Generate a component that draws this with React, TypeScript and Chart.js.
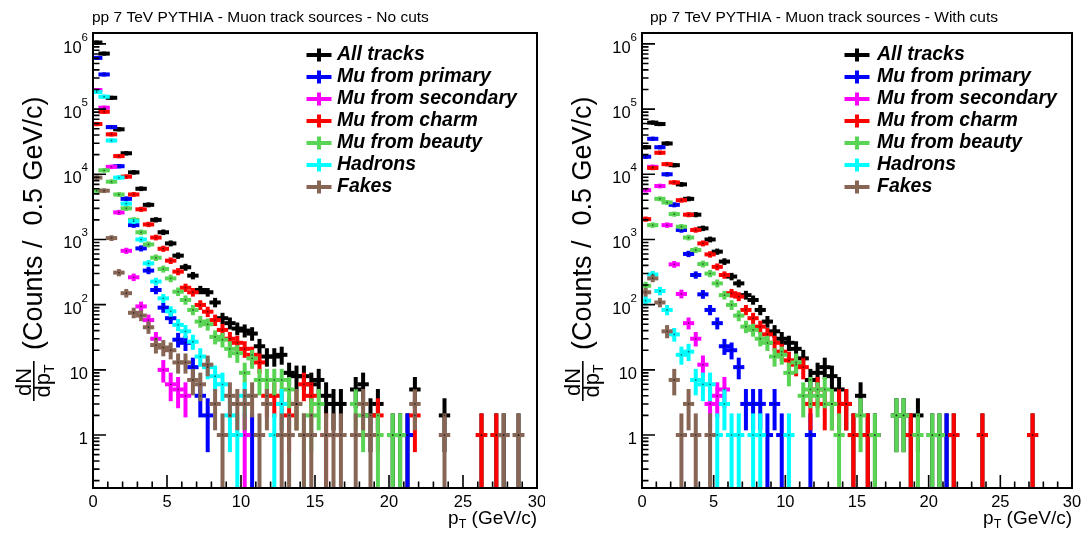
import React, { useEffect, useRef } from "react";
import { Chart, registerables } from "chart.js";

Chart.register(...registerables);

// ---------------- data ----------------
const binWidth = 0.5;
const binCenters = [
  0.25, 0.75, 1.25, 1.75, 2.25, 2.75, 3.25, 3.75, 4.25, 4.75,
  5.25, 5.75, 6.25, 6.75, 7.25, 7.75, 8.25, 8.75, 9.25, 9.75,
  10.25, 10.75, 11.25, 11.75, 12.25, 12.75, 13.25, 13.75, 14.25, 14.75,
  15.25, 15.75, 16.25, 16.75, 17.25, 17.75, 18.25, 18.75, 19.25, 19.75,
  20.25, 20.75, 21.25, 21.75, 22.25, 22.75, 23.25, 23.75, 24.25, 24.75,
  25.25, 25.75, 26.25, 26.75, 27.25, 27.75, 28.25, 28.75, 29.25, 29.75,
];

const seriesNames = [
  "All tracks",
  "Mu from primary",
  "Mu from secondary",
  "Mu from charm",
  "Mu from beauty",
  "Hadrons",
  "Fakes",
];

// ---- left panel: No cuts ----
const leftAll = [
  1050000, 710000, 149000, 49000, 21000, 10700, 6000, 3400, 2000, 1290,
  870, 565, 375, 279, 168, 155, 108, 62, 52, 43,
  40, 36, 23, 16, 16, 17, 9, 8, 8, 6,
  7, 4, 3, 3, 0, 5, 6, 2, 3, 0,
  1, 1, 1, 5, 0, 0, 0, 2, 0, 0,
  0, 0, 1, 0, 1, 1, 0, 1, 0, 0,
];
const leftPrimary = [
  610000, 340000, 53000, 13300, 4200, 1660, 730, 333, 168, 90,
  62, 29, 26, 11, 4, 2, 0, 0, 0, 0,
  0, 1, 0, 0, 0, 0, 0, 0, 0, 0,
  0, 0, 0, 0, 0, 0, 0, 0, 0, 0,
  0, 0, 1, 0, 0, 0, 0, 0, 0, 0,
  0, 0, 0, 0, 0, 0, 0, 0, 0, 0,
];
const leftSecondary = [
  196000, 105000, 13000, 2600, 670, 263, 94, 58, 30, 10,
  6, 5, 4, 0, 0, 0, 0, 0, 0, 0,
  1, 0, 0, 0, 0, 0, 0, 0, 0, 0,
  0, 0, 0, 0, 0, 0, 0, 0, 0, 0,
  0, 0, 0, 0, 0, 0, 0, 0, 0, 0,
  0, 0, 0, 0, 0, 0, 0, 0, 0, 0,
];
const leftCharm = [
  59000, 91000, 41000, 19000, 9200, 4900, 2900, 1700, 1070, 720,
  473, 321, 182, 155, 99, 78, 58, 41, 30, 26,
  21, 17, 13, 4, 4, 3, 2, 3, 6, 4,
  0, 1, 0, 0, 0, 0, 0, 0, 2, 0,
  0, 0, 0, 2, 0, 0, 0, 0, 0, 0,
  0, 0, 1, 0, 1, 0, 0, 0, 0, 0,
];
const leftBeauty = [
  5600, 11500, 7700, 4900, 3000, 2000, 1290, 840, 525, 352,
  253, 158, 118, 83, 55, 50, 32, 29, 21, 18,
  9, 15, 7, 7, 7, 7, 5, 3, 1, 2,
  3, 0, 0, 0, 0, 3, 2, 0, 1, 0,
  1, 1, 0, 0, 0, 0, 0, 0, 0, 0,
  0, 0, 0, 0, 0, 0, 0, 0, 0, 0,
];
const leftHadrons = [
  183000, 155000, 33000, 8900, 3550, 1900, 1000, 430, 226, 125,
  79, 49, 39, 27, 16, 11, 8, 6, 2, 1,
  4, 0, 0, 0, 1, 3, 0, 0, 0, 0,
  0, 0, 0, 0, 0, 0, 0, 0, 0, 0,
  0, 0, 0, 0, 0, 0, 0, 0, 0, 0,
  0, 0, 0, 0, 0, 0, 0, 0, 0, 0,
];
const leftFakes = [
  8900, 5600, 1050, 310, 150, 75, 68, 45, 24, 22,
  20, 13, 13, 7, 6, 12, 3, 1, 4, 3,
  3, 4, 1, 3, 0, 1, 1, 3, 1, 1,
  0, 1, 1, 1, 0, 1, 3, 1, 0, 0,
  0, 0, 0, 3, 0, 0, 0, 1, 0, 0,
  0, 0, 0, 0, 0, 1, 0, 1, 0, 0,
];

// ---- right panel: With cuts ----
const rightAll = [
  26000, 62000, 59000, 29700, 13800, 7000, 4200, 2400, 1480, 1000,
  650, 458, 270, 212, 140, 118, 83, 55, 39, 30,
  26, 21, 15, 7, 9, 11, 8, 5, 3, 1,
  4, 1, 1, 0, 0, 2, 2, 1, 2, 0,
  1, 1, 1, 1, 0, 0, 0, 1, 0, 0,
  0, 0, 0, 0, 1, 0, 0, 0, 0, 0,
];
const rightPrimary = [
  18600, 35000, 26000, 10000, 3400, 1400, 600, 285, 144, 83,
  52, 23, 20, 11, 3, 3, 3, 1, 3, 1,
  0, 0, 0, 1, 0, 0, 0, 0, 0, 0,
  0, 0, 0, 0, 0, 0, 0, 0, 0, 0,
  0, 0, 1, 0, 0, 0, 0, 0, 0, 0,
  0, 0, 0, 0, 0, 0, 0, 0, 0, 0,
];
const rightSecondary = [
  5700, 13000, 6600, 1660, 415, 146, 52, 30, 12, 3,
  4, 5, 0, 0, 0, 0, 0, 0, 0, 0,
  0, 0, 0, 0, 0, 0, 0, 0, 0, 0,
  0, 0, 0, 0, 0, 0, 0, 0, 0, 0,
  0, 0, 0, 0, 0, 0, 0, 0, 0, 0,
  0, 0, 0, 0, 0, 0, 0, 0, 0, 0,
];
const rightCharm = [
  2050, 12500, 21400, 14300, 7500, 4000, 2400, 1400, 870, 590,
  380, 285, 150, 133, 83, 62, 46, 35, 26, 19,
  14, 12, 11, 3, 5, 3, 3, 3, 3, 1,
  0, 1, 0, 0, 0, 0, 0, 1, 0, 0,
  0, 0, 0, 1, 0, 0, 0, 1, 0, 0,
  0, 0, 0, 0, 1, 0, 0, 0, 0, 0,
];
const rightBeauty = [
  195, 1660, 4200, 3700, 2450, 1570, 1070, 690, 420, 300,
  212, 140, 99, 68, 46, 41, 30, 26, 16, 17,
  9, 13, 4, 5, 4, 5, 3, 1, 0, 0,
  2, 0, 1, 0, 0, 2, 2, 0, 1, 0,
  1, 1, 0, 0, 0, 0, 0, 0, 0, 0,
  0, 0, 0, 0, 0, 0, 0, 0, 0, 0,
];
const rightHadrons = [
  115, 290, 162, 83, 35, 17, 19, 7, 6, 6,
  1, 3, 1, 1, 0, 1, 1, 0, 0, 0,
  1, 0, 0, 0, 0, 0, 0, 0, 0, 0,
  0, 0, 0, 0, 0, 0, 0, 0, 0, 0,
  0, 0, 0, 0, 0, 0, 0, 0, 0, 0,
  0, 0, 0, 0, 0, 0, 0, 0, 0, 0,
];
const rightFakes = [
  155, 253, 108, 39, 7, 1, 3, 1, 0, 1,
  0, 0, 0, 0, 0, 0, 0, 0, 0, 0,
  0, 0, 0, 0, 0, 0, 0, 0, 0, 0,
  0, 0, 0, 0, 0, 0, 0, 0, 0, 0,
  0, 0, 0, 0, 0, 0, 0, 0, 0, 0,
  0, 0, 0, 0, 0, 0, 0, 0, 0, 0,
];

const xTickLabels = [0, 5, 10, 15, 20, 25, 30];
const yDecadeExponents = [0, 1, 2, 3, 4, 5, 6];
const panelTitles = [
  "pp 7 TeV PYTHIA - Muon track sources - No cuts",
  "pp 7 TeV PYTHIA - Muon track sources - With cuts",
];

// ---------------- style ----------------
const COLORS = ["#000000", "#0000ff", "#ff00ff", "#ff0000", "#59d454", "#00ffff", "#876656"];
const FONT = '"Liberation Sans", Arial, Helvetica, sans-serif';
const X_MIN = 0;
const X_MAX = 30;
const Y_MIN = 0.154;
const Y_MAX = 1.47e6;
const BAR = 4;

type PanelCfg = {
  left: number;
  width: number;
  pad: { left: number; right: number; top: number; bottom: number };
  title: string;
  titleX: number;
  yTitleDx: number;
  legendCrossX: number;
  legendTextX: number;
  series: number[][];
};

const rootPlugin = (cfg: PanelCfg) => ({
  id: "rootStyle",
  beforeDatasetsDraw(chart: any) {
    const { ctx, chartArea: a } = chart;
    const xs = chart.scales.x;
    const ys = chart.scales.y;
    ctx.save();
    ctx.beginPath();
    ctx.rect(a.left, a.top, a.right - a.left, a.bottom - a.top);
    ctx.clip();
    const h = BAR / 2;
    chart.data.datasets.forEach((ds: any) => {
      ctx.fillStyle = ds.borderColor;
      ds.data.forEach((p: any) => {
        if (!p || p.y <= 0) return;
        const err = Math.sqrt(p.y);
        const px = xs.getPixelForValue(p.x);
        const xl = xs.getPixelForValue(p.x - binWidth / 2);
        const xr = xs.getPixelForValue(p.x + binWidth / 2);
        const py = ys.getPixelForValue(p.y);
        const top = ys.getPixelForValue(p.y + err);
        const lo = p.y - err;
        const bot = lo > ys.min ? ys.getPixelForValue(lo) : a.bottom + 10;
        ctx.fillRect(xl - h, py - h, xr - xl + 2 * h, 2 * h);
        ctx.fillRect(px - h, top - h, 2 * h, bot - top + 2 * h);
      });
    });
    ctx.restore();
  },
  afterDraw(chart: any) {
    const { ctx, chartArea: a } = chart;
    const xs = chart.scales.x;
    const ys = chart.scales.y;
    ctx.save();
    // frame
    ctx.strokeStyle = "#000";
    ctx.lineWidth = 2;
    ctx.strokeRect(a.left, a.top, a.right - a.left, a.bottom - a.top);
    // x ticks
    ctx.lineWidth = 1.6;
    ctx.beginPath();
    for (let v = X_MIN; v <= X_MAX; v += 1) {
      const px = xs.getPixelForValue(v);
      const len = v % 5 === 0 ? 13 : 6.5;
      ctx.moveTo(px, a.bottom);
      ctx.lineTo(px, a.bottom - len);
    }
    // y ticks
    for (let e = -1; e <= 6; e++) {
      for (let m = 1; m <= 9; m++) {
        const v = m * Math.pow(10, e);
        if (v < ys.min || v > ys.max) continue;
        const py = ys.getPixelForValue(v);
        const len = m === 1 ? 13 : 6.5;
        ctx.moveTo(a.left, py);
        ctx.lineTo(a.left + len, py);
      }
    }
    ctx.stroke();

    ctx.fillStyle = "#000";
    // x tick labels
    ctx.font = `16.5px ${FONT}`;
    ctx.textAlign = "center";
    ctx.textBaseline = "alphabetic";
    xTickLabels.forEach((v) => {
      ctx.fillText(String(v), xs.getPixelForValue(v), 506.5);
    });
    // y tick labels
    yDecadeExponents.forEach((e) => {
      const py = ys.getPixelForValue(Math.pow(10, e));
      const right = a.left - 5;
      ctx.textAlign = "right";
      if (e <= 1) {
        ctx.font = `16.5px ${FONT}`;
        ctx.fillText(e === 0 ? "1" : "10", right, py + 9);
      } else {
        ctx.font = `11.5px ${FONT}`;
        const sup = String(e);
        const sw = ctx.measureText(sup).width;
        ctx.fillText(sup, right, py - 3);
        ctx.font = `16.5px ${FONT}`;
        ctx.fillText("10", right - sw, py + 9);
      }
    });

    // x axis title: p_T (GeV/c)
    ctx.textAlign = "left";
    ctx.font = `19px ${FONT}`;
    const rest = " (GeV/c)";
    const wRest = ctx.measureText(rest).width;
    const wp = ctx.measureText("p").width;
    ctx.font = `12.5px ${FONT}`;
    const wT = ctx.measureText("T").width;
    const xEnd = a.right;
    const xStart = xEnd - wRest - wT - wp;
    ctx.font = `19px ${FONT}`;
    ctx.fillText("p", xStart, 524);
    ctx.fillText(rest, xStart + wp + wT, 524);
    ctx.font = `12.5px ${FONT}`;
    ctx.fillText("T", xStart + wp, 528);

    // y axis title (rotated)
    ctx.save();
    ctx.rotate(-Math.PI / 2);
    const dx = cfg.yTitleDx;
    ctx.font = `22px ${FONT}`;
    ctx.textAlign = "center";
    ctx.fillText("dN", -382, 31 + dx);
    ctx.fillRect(-401, 33 + dx, 40, 1.6);
    ctx.textAlign = "left";
    const wdp = ctx.measureText("dp").width;
    ctx.font = `14px ${FONT}`;
    const wsub = ctx.measureText("T").width;
    const dpStart = -381 - (wdp + wsub) / 2;
    ctx.font = `22px ${FONT}`;
    ctx.fillText("dp", dpStart, 50 + dx);
    ctx.font = `14px ${FONT}`;
    ctx.fillText("T", dpStart + wdp, 54 + dx);
    ctx.font = `27px ${FONT}`;
    ctx.fillText("(Counts /  0.5 GeV/c)", -350, 42 + dx);
    ctx.restore();

    // title
    ctx.font = `15.5px ${FONT}`;
    ctx.textAlign = "left";
    ctx.fillText(cfg.title, cfg.titleX, 22);

    // legend
    ctx.font = `italic bold 19.5px ${FONT}`;
    seriesNames.forEach((name, i) => {
      const cy = 55 + 22 * i;
      ctx.fillStyle = COLORS[i];
      ctx.fillRect(cfg.legendCrossX - 12.5, cy - 2, 25, 4);
      ctx.fillRect(cfg.legendCrossX - 2, cy - 6.5, 4, 13);
      ctx.fillStyle = "#000";
      ctx.fillText(name, cfg.legendTextX, cy + 4.5);
    });
    ctx.restore();
  },
});

function Panel({ cfg }: { cfg: PanelCfg }) {
  const ref = useRef<HTMLCanvasElement>(null);
  useEffect(() => {
    if (!ref.current) return;
    const datasets = cfg.series.map((vals, i) => ({
      label: seriesNames[i],
      data: binCenters
        .map((c, j) => ({ x: c, y: vals[j] }))
        .filter((p) => p.y > 0),
      borderColor: COLORS[i],
      backgroundColor: COLORS[i],
      pointRadius: 0.9,
      pointBorderWidth: 0,
      pointBackgroundColor: "rgba(0,0,0,0.55)",
      showLine: false,
    }));
    const chart = new Chart(ref.current, {
      type: "scatter",
      data: { datasets },
      options: {
        animation: false,
        responsive: false,
        maintainAspectRatio: false,
        events: [],
        layout: { padding: cfg.pad },
        plugins: {
          legend: { display: false },
          tooltip: { enabled: false },
          title: { display: false },
        },
        scales: {
          x: { type: "linear", min: X_MIN, max: X_MAX, display: false },
          y: { type: "logarithmic", min: Y_MIN, max: Y_MAX, display: false },
        },
      },
      plugins: [rootPlugin(cfg)],
    } as any);
    return () => chart.destroy();
  }, []);
  return (
    <canvas
      ref={ref}
      width={cfg.width}
      height={533}
      style={{ position: "absolute", left: cfg.left, top: 0, width: cfg.width, height: 533 }}
    />
  );
}

const leftCfg: PanelCfg = {
  left: 0,
  width: 545,
  pad: { left: 93, right: 8, top: 33, bottom: 45 },
  title: panelTitles[0],
  titleX: 92,
  yTitleDx: 0,
  legendCrossX: 319,
  legendTextX: 337,
  series: [leftAll, leftPrimary, leftSecondary, leftCharm, leftBeauty, leftHadrons, leftFakes],
};

const rightCfg: PanelCfg = {
  left: 545,
  width: 544,
  pad: { left: 97, right: 17, top: 33, bottom: 45 },
  title: panelTitles[1],
  titleX: 105,
  yTitleDx: 4,
  legendCrossX: 312,
  legendTextX: 332,
  series: [rightAll, rightPrimary, rightSecondary, rightCharm, rightBeauty, rightHadrons, rightFakes],
};

export default function App() {
  return (
    <div style={{ position: "fixed", left: 0, top: 0, width: 1089, height: 533, background: "#fff" }}>
      <Panel cfg={leftCfg} />
      <Panel cfg={rightCfg} />
    </div>
  );
}
